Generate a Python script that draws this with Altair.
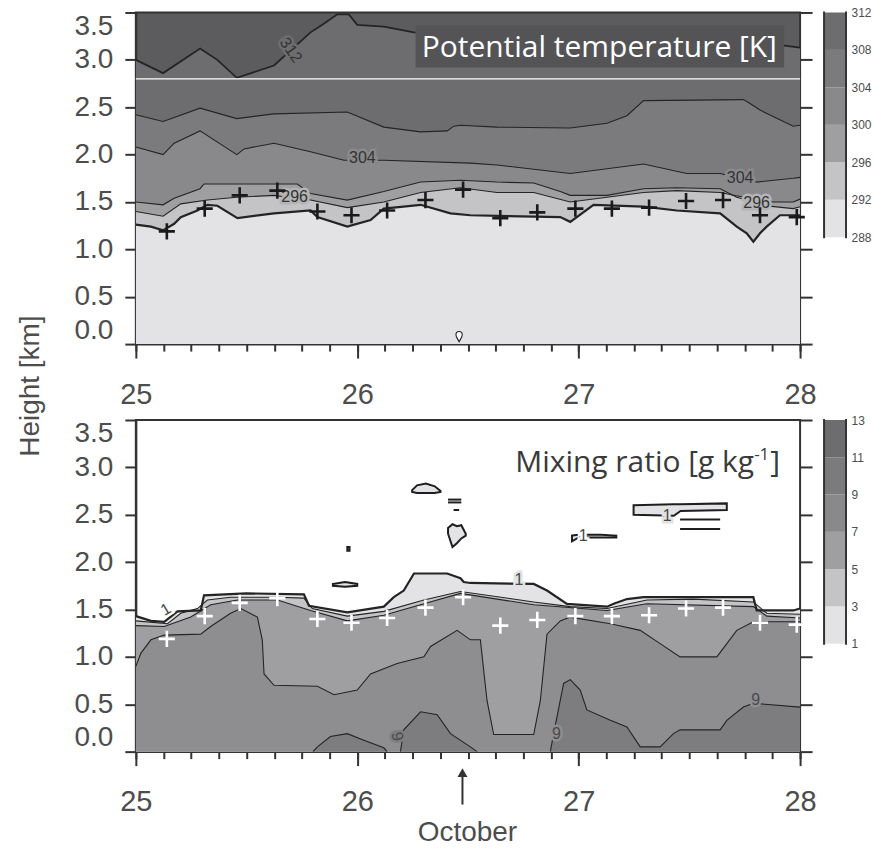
import altair as alt
import pandas as pd

# ---------------- axes / scales ----------------
X_DOMAIN = [25, 28]
Y_DOMAIN = [0, 3.5]
W, H = 665, 332
X_MAJOR = [25, 26, 27, 28]
X_MINOR = [25 + k / 8 for k in range(25)]
Y_TICKS = [0.0, 0.5, 1.0, 1.5, 2.0, 2.5, 3.0, 3.5]

# ---------------- top panel: potential temperature isentrope heights (km) ----------------
T312 = [25.0, 25.123, 25.29, 25.368, 25.456, 25.624, 25.789, 25.842, 25.91, 25.962, 26.0, 26.12, 26.256, 26.6, 27.0, 27.4, 27.8, 27.93, 28.0]
H312 = [3.00, 2.86, 3.12, 3.00, 2.81, 2.94, 3.29, 3.37, 3.48, 3.48, 3.37, 3.35, 3.29, 3.26, 3.23, 3.20, 3.17, 3.15, 3.13]
T308 = [25.0, 25.123, 25.29, 25.456, 25.624, 25.955, 26.12, 26.286, 26.406, 26.436, 26.466, 26.631, 26.962, 27.128, 27.218, 27.293, 27.744, 27.774, 27.819, 27.969, 28.0]
H308 = [2.42, 2.35, 2.49, 2.38, 2.43, 2.45, 2.29, 2.24, 2.25, 2.30, 2.31, 2.29, 2.28, 2.33, 2.41, 2.57, 2.58, 2.54, 2.47, 2.30, 2.31]
T304 = [25.0, 25.123, 25.173, 25.29, 25.456, 25.489, 25.624, 25.789, 25.94, 26.12, 26.511, 26.631, 26.962, 27.293, 27.488, 27.639, 27.804, 27.969, 28.0]
H304 = [2.08, 2.00, 2.12, 2.25, 2.00, 2.06, 2.12, 2.03, 1.94, 1.94, 1.91, 1.89, 1.80, 1.90, 1.80, 1.80, 1.71, 1.75, 1.76]
T300 = [25.0, 25.123, 25.173, 25.29, 25.308, 25.428, 25.729, 25.789, 25.955, 26.12, 26.286, 26.466, 26.631, 26.797, 26.917, 26.962, 27.128, 27.293, 27.443, 27.639, 27.714, 27.789, 27.969, 28.0]
H300 = [1.50, 1.47, 1.54, 1.64, 1.69, 1.69, 1.69, 1.59, 1.52, 1.61, 1.71, 1.73, 1.71, 1.70, 1.61, 1.57, 1.57, 1.64, 1.65, 1.64, 1.55, 1.50, 1.50, 1.53]
T296 = [25.0, 25.123, 25.203, 25.323, 25.456, 25.624, 25.789, 25.955, 26.12, 26.286, 26.466, 26.631, 26.797, 26.962, 27.128, 27.293, 27.443, 27.639, 27.744, 27.804, 27.969, 28.0]
H296 = [1.40, 1.35, 1.48, 1.52, 1.55, 1.57, 1.52, 1.44, 1.50, 1.60, 1.65, 1.60, 1.60, 1.50, 1.55, 1.60, 1.62, 1.60, 1.55, 1.47, 1.43, 1.45]
T292 = [25.0, 25.068, 25.123, 25.173, 25.203, 25.278, 25.323, 25.368, 25.459, 25.624, 25.789, 25.82, 25.955, 26.06, 26.12, 26.286, 26.421, 26.511, 26.917, 26.962, 27.067, 27.293, 27.443, 27.639, 27.714, 27.759, 27.789, 27.819, 27.849, 27.909, 28.0]
H292 = [1.26, 1.24, 1.20, 1.27, 1.34, 1.41, 1.47, 1.46, 1.33, 1.38, 1.41, 1.34, 1.24, 1.31, 1.43, 1.47, 1.38, 1.36, 1.34, 1.29, 1.47, 1.45, 1.41, 1.38, 1.24, 1.17, 1.08, 1.17, 1.24, 1.36, 1.36]

TH_COLORS = {"above": "#5c5c5e", 312: "#6d6d6f", 308: "#7b7b7d", 304: "#89898b", 300: "#9f9fa1", 296: "#c4c4c6", 292: "#e3e3e5"}
TH_BAR_LEVELS = [288, 292, 296, 300, 304, 308, 312]
TH_BAR_COLORS = ["#e3e3e5", "#c4c4c6", "#9f9fa1", "#89898b", "#7b7b7d", "#6d6d6f"]

TH_LABEL_T = [25.70, 26.023, 27.729, 25.717, 27.804]
TH_LABEL_H = [3.10, 1.96, 1.755, 1.555, 1.49]
TH_LABEL_TXT = ["312", "304", "304", "296", "296"]
TH_LABEL_ANG = [55, 0, 0, 0, 0]
TH_LABEL_HALO = ["#6d6d6f", "#89898b", "#89898b", "#b4b4b6", "#b4b4b6"]

# boundary-layer height markers
BL_T = [25.140, 25.311, 25.469, 25.639, 25.820, 25.974, 26.135, 26.308, 26.478, 26.646, 26.813, 26.985, 27.150, 27.318, 27.485, 27.652, 27.819, 27.985]
BL_H = [1.19, 1.43, 1.57, 1.62, 1.40, 1.36, 1.41, 1.52, 1.63, 1.33, 1.39, 1.43, 1.43, 1.44, 1.51, 1.52, 1.36, 1.34]

PIN_T = [26.46]
PIN_H = [0.08]
WHITE_LINE_H = 2.8

# ---------------- bottom panel: mixing ratio contour heights (km) ----------------
T1 = [25.0, 25.068, 25.128, 25.188, 25.293, 25.308, 25.5, 25.759, 25.782, 25.955, 26.12, 26.165, 26.21, 26.256, 26.406, 26.466, 26.481, 26.511, 26.797, 26.857, 26.947, 27.128, 27.158, 27.218, 27.293, 27.789, 27.804, 27.969, 28.0]
H1 = [1.43, 1.38, 1.37, 1.48, 1.49, 1.65, 1.67, 1.66, 1.54, 1.47, 1.53, 1.63, 1.70, 1.88, 1.88, 1.83, 1.79, 1.78, 1.77, 1.70, 1.56, 1.53, 1.56, 1.61, 1.63, 1.63, 1.49, 1.49, 1.51]
T3 = [25.0, 25.143, 25.203, 25.278, 25.323, 25.428, 25.639, 25.759, 25.797, 25.955, 26.12, 26.301, 26.466, 26.797, 26.962, 27.128, 27.308, 27.518, 27.789, 27.85, 28.0]
H3 = [1.38, 1.35, 1.46, 1.51, 1.60, 1.63, 1.63, 1.62, 1.51, 1.43, 1.48, 1.60, 1.69, 1.58, 1.53, 1.51, 1.60, 1.61, 1.58, 1.46, 1.45]
T5 = [25.0, 25.128, 25.248, 25.338, 25.459, 25.639, 25.789, 25.955, 26.12, 26.301, 26.466, 26.797, 27.128, 27.308, 27.789, 27.85, 28.0]
H5 = [1.33, 1.32, 1.42, 1.55, 1.60, 1.60, 1.49, 1.38, 1.44, 1.56, 1.67, 1.55, 1.49, 1.56, 1.53, 1.43, 1.41]
T7 = [25.0, 25.023, 25.068, 25.128, 25.293, 25.338, 25.428, 25.474, 25.549, 25.571, 25.579, 25.624, 25.82, 25.895, 26.0, 26.06, 26.18, 26.301, 26.331, 26.451, 26.511, 26.556, 26.586, 26.616, 26.797, 26.827, 26.857, 26.917, 26.962, 27.143, 27.278, 27.368, 27.458, 27.624, 27.669, 27.714, 27.789, 28.0]
H7 = [0.90, 1.04, 1.18, 1.23, 1.24, 1.32, 1.46, 1.51, 1.42, 1.18, 0.82, 0.70, 0.69, 0.60, 0.65, 0.82, 0.93, 1.00, 1.11, 1.28, 1.18, 1.18, 0.54, 0.18, 0.18, 0.54, 1.24, 1.38, 1.42, 1.35, 1.28, 1.14, 1.00, 1.00, 1.14, 1.28, 1.37, 1.37]
# 9 g/kg pockets near the surface
B9_ID = ["a"] * 7 + ["b"] * 7 + ["c"] * 17
B9_T = [25.80, 25.82, 25.879, 25.955, 26.03, 26.12, 26.135,
        26.195, 26.21, 26.286, 26.361, 26.421, 26.511, 26.541,
        26.872, 26.887, 26.932, 26.962, 27.007, 27.037, 27.143, 27.218, 27.278, 27.368, 27.428, 27.458, 27.639, 27.669, 27.744, 27.789, 28.0]
B9_H = [0.0, 0.05, 0.16, 0.19, 0.12, 0.04, 0.0,
        0.0, 0.23, 0.42, 0.39, 0.19, 0.05, 0.0,
        0.0, 0.19, 0.72, 0.76, 0.65, 0.44, 0.33, 0.26, 0.05, 0.05, 0.19, 0.23, 0.23, 0.33, 0.47, 0.51, 0.47]

# isolated moist patches aloft (>1 g/kg), outline top/bottom
BLOB_ID = ["u1"] * 5 + ["u2"] * 5 + ["u3"] * 4 + ["u4"] * 4 + ["u5"] * 3 + ["u6"] * 2
BLOB_T = [26.248, 26.27, 26.31, 26.35, 26.376,
          26.41, 26.43, 26.45, 26.47, 26.49,
          26.97, 27.0, 27.1, 27.17,
          27.248, 27.43, 27.46, 27.669,
          25.89, 25.945, 26.0,
          25.955, 25.965]
BLOB_UP = [2.76, 2.81, 2.83, 2.80, 2.75,
           2.36, 2.40, 2.38, 2.39, 2.30,
           2.28, 2.29, 2.29, 2.28,
           2.60, 2.61, 2.61, 2.62,
           1.77, 1.79, 1.77,
           2.16, 2.16]
BLOB_LO = [2.74, 2.73, 2.73, 2.73, 2.74,
           2.30, 2.16, 2.20, 2.25, 2.28,
           2.22, 2.26, 2.26, 2.26,
           2.50, 2.49, 2.54, 2.55,
           1.75, 1.74, 1.75,
           2.12, 2.12]
SEG_T0 = [26.41, 26.41, 27.458, 27.458, 26.435]
SEG_T1 = [26.47, 26.47, 27.639, 27.639, 26.46]
SEG_H = [2.66, 2.63, 2.45, 2.35, 2.55]

Q_COLORS = {1: "#e3e3e5", 3: "#c4c4c6", 5: "#9f9fa1", 7: "#8e8e90", 9: "#7d7d7f"}
Q_BAR_LEVELS = [1, 3, 5, 7, 9, 11, 13]
Q_BAR_COLORS = ["#e3e3e5", "#c4c4c6", "#9f9fa1", "#89898b", "#7b7b7d", "#6d6d6f"]

Q_LABEL_T = [25.135, 26.73, 27.02, 27.40, 26.18, 26.90, 27.80]
Q_LABEL_H = [1.50, 1.81, 2.28, 2.49, 0.16, 0.19, 0.54]
Q_LABEL_TXT = ["1", "1", "1", "1", "9", "9", "9"]
Q_LABEL_ANG = [330, 0, 0, 0, 80, 0, 0]
Q_LABEL_HALO = ["#ffffff", "#e3e3e5", "#ffffff", "#e3e3e5", "#7d7d7f", "#8e8e90", "#8e8e90"]

# ---------------- helpers ----------------
xs = alt.Scale(domain=X_DOMAIN, nice=False, zero=False)
ys = alt.Scale(domain=Y_DOMAIN, nice=False, zero=False)
LINE = "#242424"
LABEL_FONT = "Liberation Sans"
TITLE_FONT = "Open Sans"
AX_COLOR = "#333333"
LAB_COLOR = "#4d4d4d"

ax_x_major = alt.Axis(values=X_MAJOR, format="d", tickSize=14, labelPadding=22, labelFontSize=29,
                      labelFlush=False, title=None, orient="bottom", grid=False)
ax_x_minor = alt.Axis(values=X_MINOR, tickSize=7, labels=False, domain=False, title=None,
                      orient="bottom", grid=False)
ax_y_left = alt.Axis(values=Y_TICKS, format=".1f", tickSize=11, labelPadding=12, labelFontSize=28,
                     labelFlush=True, title=None, orient="left", grid=False)
ax_y_right = alt.Axis(values=Y_TICKS, tickSize=12, labels=False, domain=False, title=None,
                      orient="right", grid=False)


def pos(xfield="t", yfield="h", xaxis=None, yaxis=None):
    return dict(x=alt.X(f"{xfield}:Q", scale=xs, axis=xaxis),
                y=alt.Y(f"{yfield}:Q", scale=ys, axis=yaxis, stack=None))


def area(df, color, xaxis=None, yaxis=None):
    return alt.Chart(df).mark_area(color=color, interpolate="linear", clip=True).encode(
        **pos(xaxis=xaxis, yaxis=yaxis))


def line(df, width, color=LINE):
    return alt.Chart(df).mark_line(color=color, strokeWidth=width, clip=True).encode(**pos())


def labels(t, h, txt, ang, halo, color, size):
    df = pd.DataFrame({"t": t, "h": h, "txt": txt, "ang": ang, "halo": halo})
    common = dict(fontSize=size, font=LABEL_FONT, baseline="middle", align="center")
    enc = dict(**pos(), text="txt:N", angle=alt.Angle("ang:Q", scale=None))
    back = alt.Chart(df).mark_text(strokeWidth=5, **common).encode(
        **enc, color=alt.Color("halo:N", scale=None), stroke=alt.Stroke("halo:N", scale=None))
    front = alt.Chart(df).mark_text(color=color, **common).encode(**enc)
    return [back, front]


ONE = pd.DataFrame({"k": [0]})

# ---------------- top panel ----------------
th = {lv: pd.DataFrame({"t": t, "h": h}) for lv, t, h in [
    (312, T312, H312), (308, T308, H308), (304, T304, H304),
    (300, T300, H300), (296, T296, H296), (292, T292, H292)]}
bl = pd.DataFrame({"t": BL_T, "h": BL_H})
PLUS = "M-1,0L1,0M0,-1L0,1"
PIN = "M0,1 C-0.25,0.45 -0.6,0.15 -0.6,-0.35 A0.6,0.6 0 1,1 0.6,-0.35 C0.6,0.15 0.25,0.45 0,1 Z"

top_layers = [area(th[312], TH_COLORS[312], ax_x_major, ax_y_left)]
for lv in [308, 304, 300, 296, 292]:
    top_layers.append(area(th[lv], TH_COLORS[lv]))
top_layers += [
    line(th[312], 1.8), line(th[308], 1.1), line(th[304], 1.1), line(th[300], 1.1),
    line(th[296], 1.1), line(th[292], 2.2),
    alt.Chart(pd.DataFrame({"h": [WHITE_LINE_H]})).mark_rule(color="white", strokeWidth=1.2).encode(
        y=alt.Y("h:Q", scale=ys, axis=None)),
]
top_layers += labels(TH_LABEL_T, TH_LABEL_H, TH_LABEL_TXT, TH_LABEL_ANG, TH_LABEL_HALO, "#333333", 16)
top_layers += [
    alt.Chart(bl).mark_point(shape=PLUS, size=260, strokeWidth=2.6, color="#1a1a1a", filled=False,
                             opacity=1).encode(**pos(xaxis=ax_x_minor, yaxis=ax_y_right)),
    alt.Chart(pd.DataFrame({"t": PIN_T, "h": PIN_H})).mark_point(
        shape=PIN, size=110, filled=True, fill="white", stroke="#222222", strokeWidth=1.1, opacity=1).encode(
        **pos()),
    alt.Chart(ONE).mark_rect(color="#545456").encode(
        x=alt.value(280), x2=alt.value(649), y=alt.value(13), y2=alt.value(55)),
    alt.Chart(ONE).mark_text(text="Potential temperature [K]", font=TITLE_FONT, fontSize=30,
                             color="white", align="center", baseline="alphabetic").encode(
        x=alt.value(464), y=alt.value(45)),
    alt.Chart(ONE).mark_text(text="Height [km]", font=LABEL_FONT, fontSize=28, color=LAB_COLOR,
                             align="center", baseline="middle", angle=270).encode(
        x=alt.value(-105), y=alt.value(374)),
]
top = alt.layer(*top_layers).resolve_axis(x="independent", y="independent").properties(
    width=W, height=H, view=alt.ViewBackground(fill=TH_COLORS["above"], stroke=AX_COLOR, strokeWidth=2))

# ---------------- bottom panel ----------------
q = {lv: pd.DataFrame({"t": t, "h": h}) for lv, t, h in [
    (1, T1, H1), (3, T3, H3), (5, T5, H5), (7, T7, H7)]}
b9 = pd.DataFrame({"g": B9_ID, "t": B9_T, "h": B9_H})
blobs = pd.DataFrame({"g": BLOB_ID, "t": BLOB_T, "up": BLOB_UP, "lo": BLOB_LO})
segs = pd.DataFrame({"t0": SEG_T0, "t1": SEG_T1, "h": SEG_H})

bot_layers = [area(q[1], Q_COLORS[1], ax_x_major, ax_y_left)]
for lv in [3, 5, 7]:
    bot_layers.append(area(q[lv], Q_COLORS[lv]))
bot_layers += [
    alt.Chart(b9).mark_area(color=Q_COLORS[9], clip=True).encode(**pos(), detail="g:N"),
    line(q[7], 1.1), line(q[5], 1.1), line(q[3], 1.1), line(q[1], 2.2),
    alt.Chart(b9).mark_line(color=LINE, strokeWidth=1.1, clip=True).encode(**pos(), detail="g:N"),
    alt.Chart(blobs).mark_area(fill=Q_COLORS[1], stroke="#1e1e1e", strokeWidth=2, clip=True).encode(
        x=alt.X("t:Q", scale=xs, axis=None), y=alt.Y("up:Q", scale=ys, axis=None, stack=None),
        y2="lo:Q", detail="g:N"),
    alt.Chart(segs).mark_rule(color="#1e1e1e", strokeWidth=2).encode(
        x=alt.X("t0:Q", scale=xs, axis=None), x2="t1:Q", y=alt.Y("h:Q", scale=ys, axis=None)),
]
bot_layers += labels(Q_LABEL_T, Q_LABEL_H, Q_LABEL_TXT, Q_LABEL_ANG, Q_LABEL_HALO, "#4a4a4a", 16)
bot_layers += [
    alt.Chart(bl).mark_point(shape=PLUS, size=260, strokeWidth=2.6, color="white", filled=False,
                             opacity=1).encode(**pos(xaxis=ax_x_minor, yaxis=ax_y_right)),
    alt.Chart(ONE).mark_text(text="Mixing ratio [g kg", font=TITLE_FONT, fontSize=30,
                             color="#3a3a3a", align="right", baseline="alphabetic").encode(
        x=alt.value(619), y=alt.value(52)),
    alt.Chart(ONE).mark_text(text="-1", font=TITLE_FONT, fontSize=17,
                             color="#3a3a3a", align="left", baseline="alphabetic").encode(
        x=alt.value(619), y=alt.value(40)),
    alt.Chart(ONE).mark_text(text="]", font=TITLE_FONT, fontSize=30,
                             color="#3a3a3a", align="right", baseline="alphabetic").encode(
        x=alt.value(645), y=alt.value(52)),
    alt.Chart(ONE).mark_rule(color="#333333", strokeWidth=2).encode(
        x=alt.value(327), y=alt.value(352), y2=alt.value(385)),
    alt.Chart(ONE).mark_point(shape="triangle-up", size=100, filled=True, color="#333333", opacity=1).encode(
        x=alt.value(327), y=alt.value(353)),
    alt.Chart(ONE).mark_text(text="October", font=LABEL_FONT, fontSize=28, color=LAB_COLOR,
                             align="center", baseline="middle").encode(
        x=alt.value(332), y=alt.value(413)),
]
bottom = alt.layer(*bot_layers).resolve_axis(x="independent", y="independent").properties(
    width=W, height=H, view=alt.ViewBackground(fill="white", stroke=AX_COLOR, strokeWidth=2))


# ---------------- colour bars ----------------
def colorbar(levels, colors, height):
    df = pd.DataFrame({"lo": levels[:-1], "hi": levels[1:], "c": colors})
    cs = alt.Scale(domain=[levels[0], levels[-1]], nice=False, zero=False)
    rects = alt.Chart(df).mark_rect().encode(
        y=alt.Y("lo:Q", scale=cs, axis=alt.Axis(values=levels, orient="right", ticks=False, domain=False,
                                                  labelFontSize=12, labelPadding=5, title=None, grid=False,
                                                  labelFlush=False)),
        y2="hi:Q", x=alt.value(0), x2=alt.value(22), color=alt.Color("c:N", scale=None))
    edges = alt.Chart(pd.DataFrame({"e": [0, 22]})).mark_rule(color="#333333", strokeWidth=2).encode(
        x=alt.X("e:Q", scale=alt.Scale(domain=[0, 22], range=[0, 22]), axis=None),
        y=alt.value(-1), y2=alt.value(height + 1))
    return alt.layer(rects, edges).properties(
        width=22, height=height, view=alt.ViewBackground(strokeWidth=0))


cbar_top = colorbar(TH_BAR_LEVELS, TH_BAR_COLORS, 225)
cbar_bot = colorbar(Q_BAR_LEVELS, Q_BAR_COLORS, 224)

chart = alt.concat(top, cbar_top, bottom, cbar_bot, columns=2, bounds="flush", align="each",
                   spacing={"row": 76, "column": 24}).properties(
    padding={"left": 16, "top": 6, "right": 2, "bottom": 2}
).configure_axis(
    domainColor=AX_COLOR, domainWidth=2, tickColor=AX_COLOR, tickWidth=2, labelColor=LAB_COLOR,
    labelFont=LABEL_FONT
).configure_view(strokeWidth=0)

chart.save("out.html", embed_options={"renderer": "svg", "actions": False})
